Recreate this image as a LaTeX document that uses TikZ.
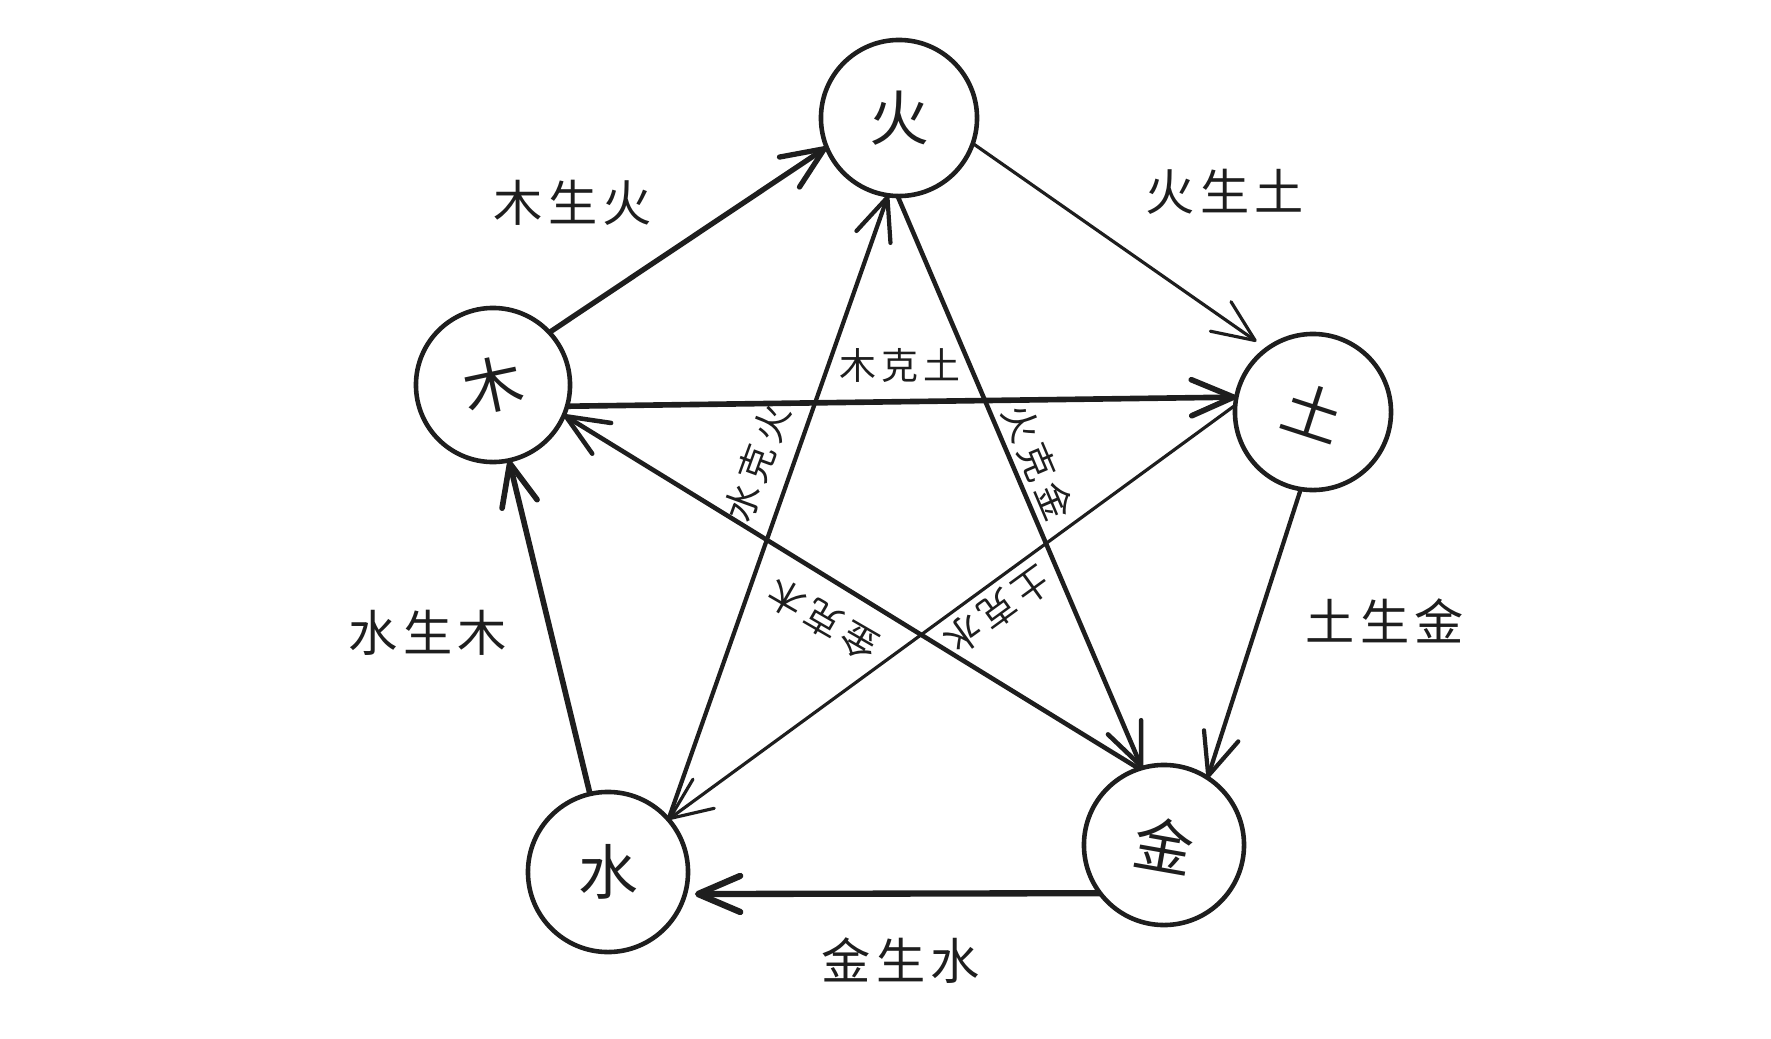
\documentclass[tikz,border=0pt]{standalone}
\usepackage{fontspec}
\newfontfamily\cjk{Noto Sans CJK SC}
\usetikzlibrary{arrows.meta}
\definecolor{ink}{HTML}{1E1E1E}
\newcommand{\lsp}{\kern1.5pt}

\begin{document}
\begin{tikzpicture}[x=0.01cm, y=-0.01cm,
  elem/.style={circle, draw=ink, line width=1.3pt, inner sep=0pt, outer sep=0pt,
               minimum size=1.56cm, text=ink, font=\cjk\fontsize{17}{20}\selectfont},
  flow/.style={draw=ink, -{Straight Barb[length=0.42cm,width=0.36cm,round]}},
  biglabel/.style={text=ink, font=\cjk\fontsize{14}{16}\selectfont},
  smalllabel/.style={text=ink, inner sep=1pt, font=\cjk\fontsize{10.5}{12}\selectfont}]
\useasboundingbox (0,0) rectangle (1771,1039);

% the five elements
\node[elem] (huo) at (899,118) {火};
\node[elem, minimum size=1.54cm] (mu) at (493,385) {\rotatebox{12}{木}};
\node[elem] (tu) at (1313,412) {\rotatebox{-18}{土}};
\node[elem, minimum size=1.6cm] (shui) at (608,872) {水};
\node[elem, minimum size=1.6cm] (jin) at (1164,845) {\rotatebox{-10}{金}};

% generating cycle
\draw[flow, line width=1.5pt] (mu.43) -- (huo.202);
\draw[flow, line width=0.9pt, shorten >=0.13cm] (huo.-19) -- (tu.126);
\draw[flow, line width=1.2pt] (tu.261) -- (jin.57);
\draw[flow, line width=1.8pt, shorten >=0.1cm] (jin.217) -- (shui.-16);
\draw[flow, line width=1.6pt] (shui.103) -- (mu.-78);

% overcoming cycle
\draw[flow, line width=1.6pt] (mu.-16) -- (tu.169);
\draw[flow, line width=1.3pt] (jin.108) -- (mu.-23);
\draw[flow, line width=1.3pt] (huo.269) -- (jin.106);
\draw[flow, line width=1.2pt] (shui.41) -- (huo.262);
\draw[flow, line width=0.9pt] (tu.175) -- (shui.41);

\node[biglabel] (muhuo) at (573,203) {木\lsp 生\lsp 火};
\node[biglabel] (huotu) at (1225,192) {火\lsp 生\lsp 土};
\node[biglabel] (tujin) at (1385,621) {土\lsp 生\lsp 金};
\node[biglabel] (shuimu) at (428,633) {水\lsp 生\lsp 木};
\node[biglabel] (jinshui) at (901,961) {金\lsp 生\lsp 水};

\node[smalllabel] (muketu) at (900,365) {木\lsp 克\lsp 土};
\node[smalllabel, rotate=70] (shuikehuo) at (757,463) {水\lsp 克\lsp 火};
\node[smalllabel, rotate=-67] (huokejin) at (1038,462) {火\lsp 克\lsp 金};
\node[smalllabel, rotate=150] (jinkemu) at (823,620) {金\lsp 克\lsp 木};
\node[smalllabel, rotate=216] (tukeshui) at (998,610) {土\lsp 克\lsp 水};
\end{tikzpicture}
\end{document}
